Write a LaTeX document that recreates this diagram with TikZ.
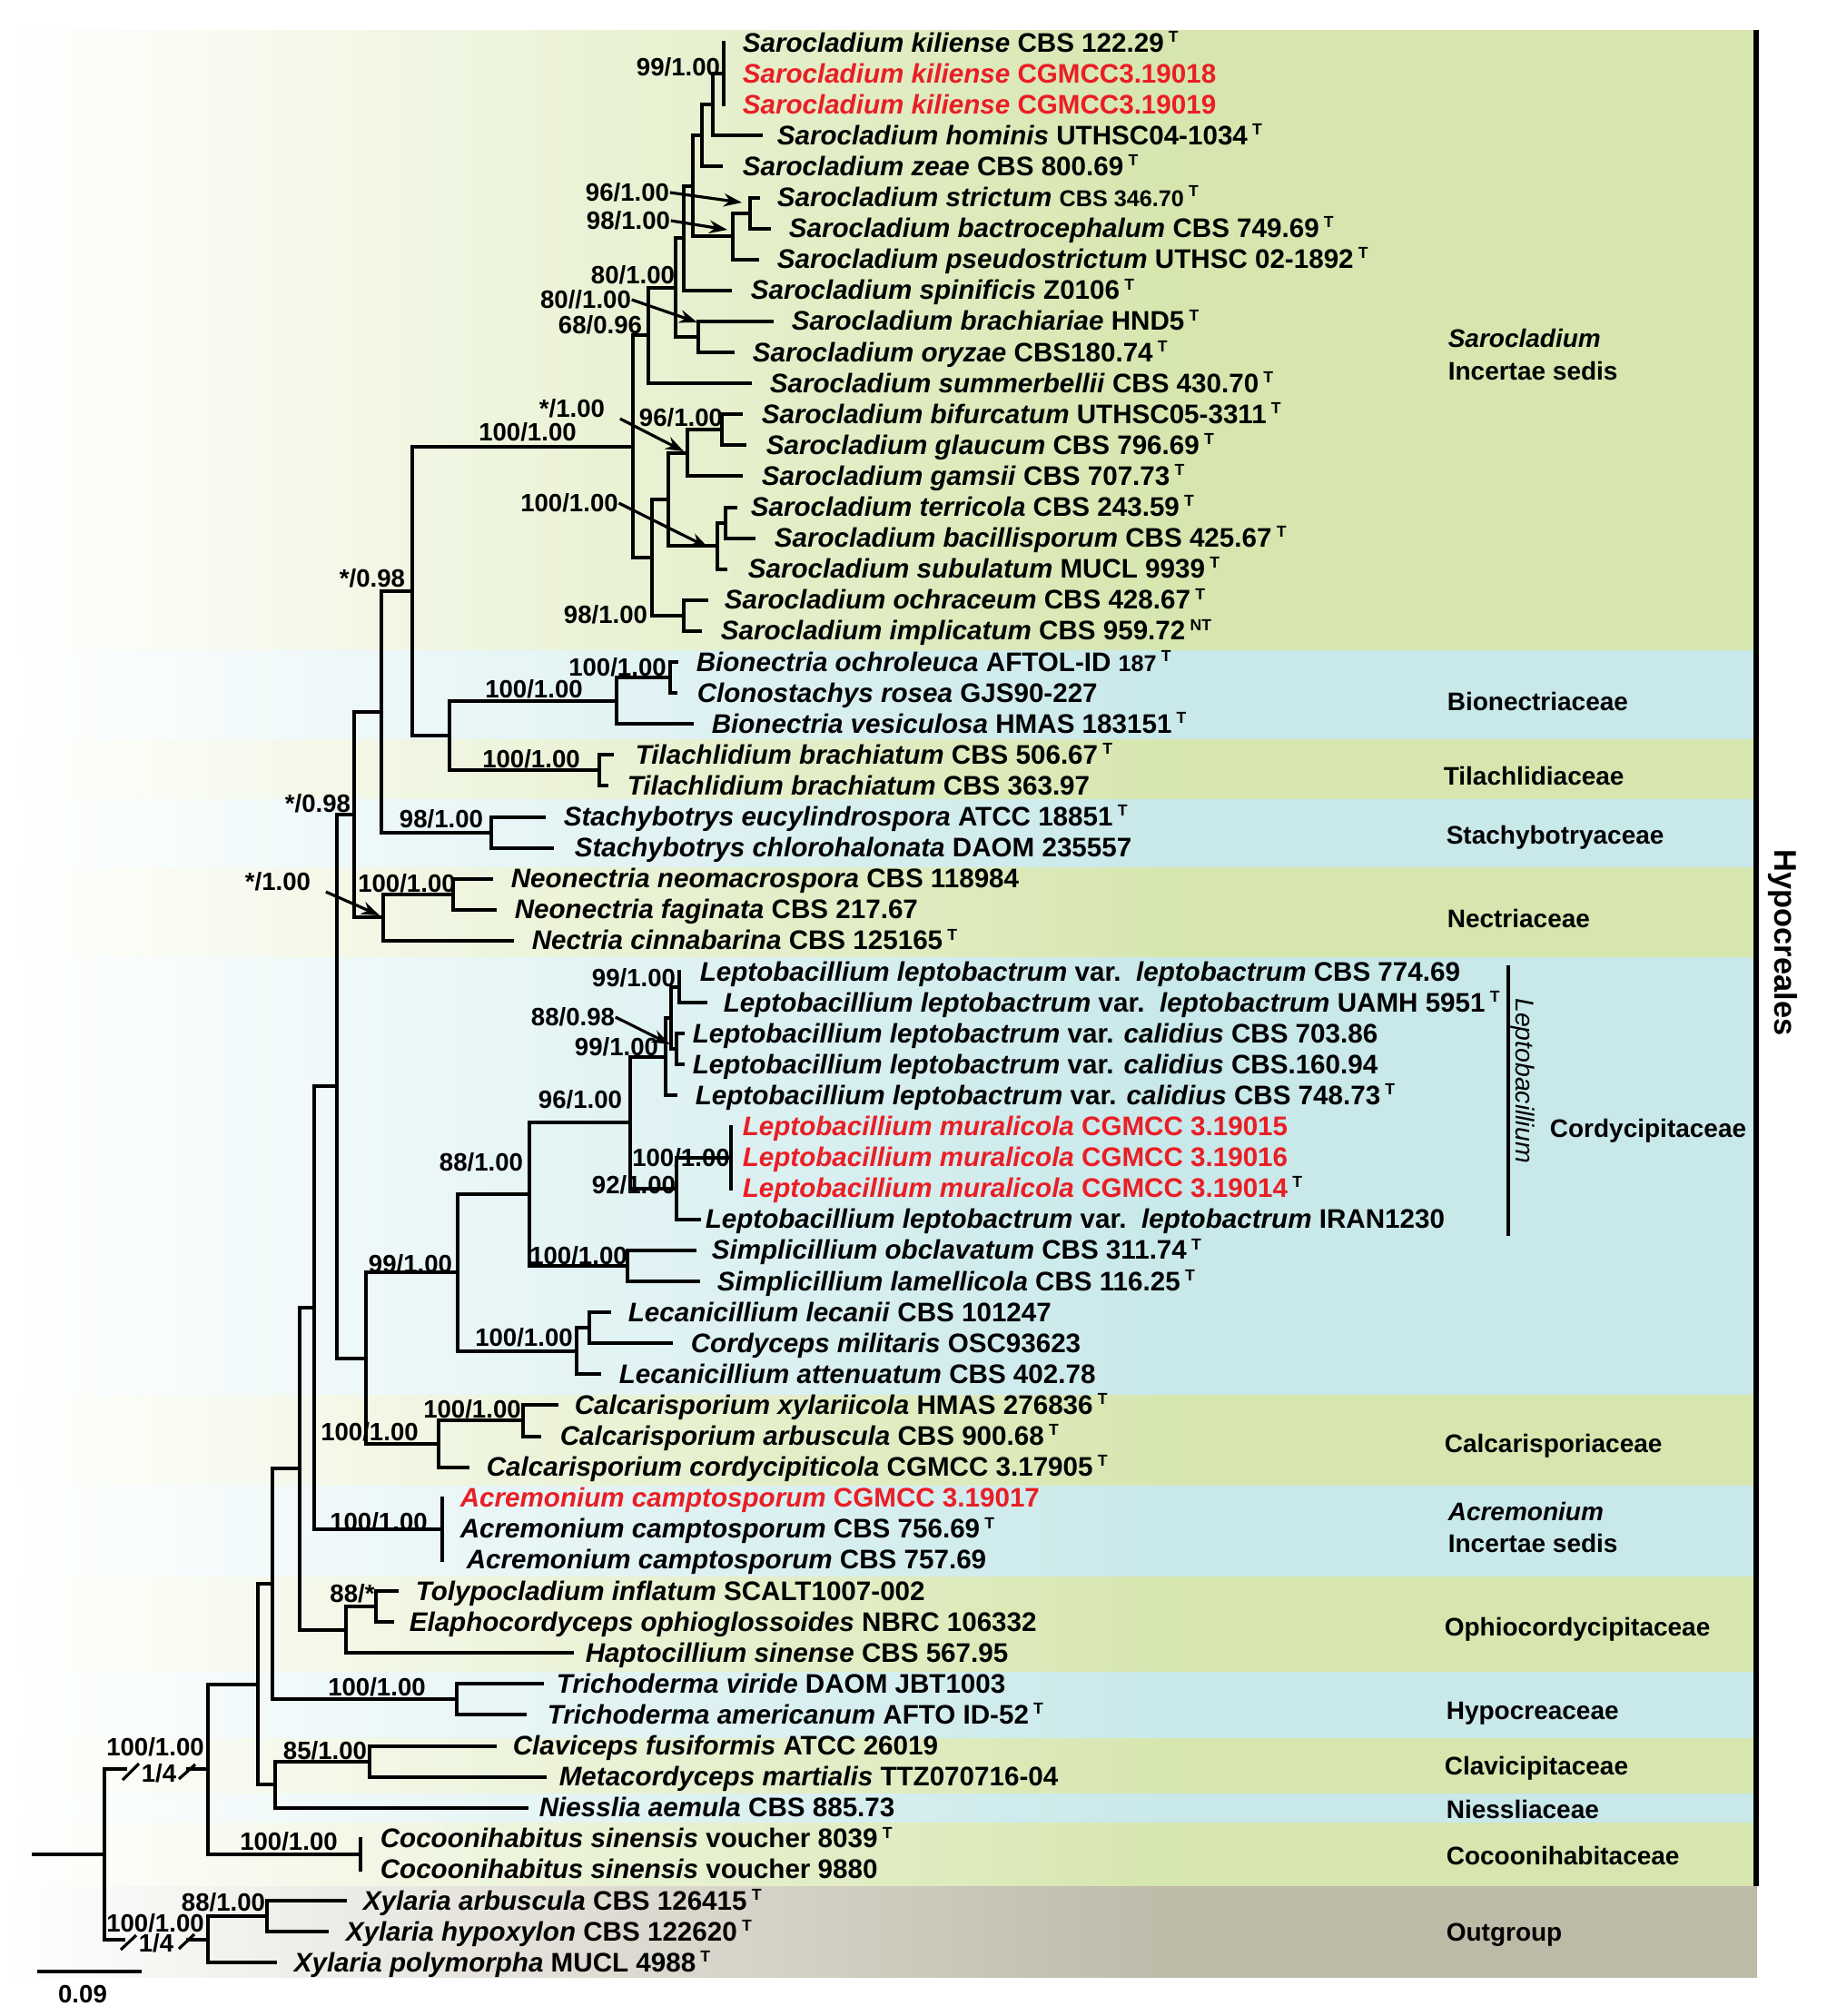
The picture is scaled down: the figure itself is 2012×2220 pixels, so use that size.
\documentclass[tikz,border=0pt]{standalone}
\usepackage{fontspec}
\setmainfont{Liberation Sans}
\usetikzlibrary{arrows.meta}
\definecolor{bgG}{RGB}{214,230,174}
\definecolor{bgB}{RGB}{200,232,234}
\definecolor{bgO}{RGB}{190,186,168}
\definecolor{redt}{RGB}{234,30,37}
\pgfdeclarehorizontalshading{shG}{100bp}{color(0bp)=(white); color(25bp)=(white); color(58.6bp)=(bgG); color(100bp)=(bgG)}
\pgfdeclarehorizontalshading{shB}{100bp}{color(0bp)=(white); color(25bp)=(white); color(58.6bp)=(bgB); color(100bp)=(bgB)}
\pgfdeclarehorizontalshading{shO}{100bp}{color(0bp)=(white); color(25bp)=(white); color(58.6bp)=(bgO); color(100bp)=(bgO)}
\newcommand{\gi}[1]{\textit{#1}}
\newcommand{\supT}{\kern1.3pt\raisebox{2.7pt}{\fontsize{4.4}{5}\selectfont T}}
\newcommand{\supNT}{\kern1.3pt\raisebox{2.7pt}{\fontsize{4.4}{5}\selectfont NT}}
\newcommand{\smf}{\fontsize{6.3}{7}\selectfont}
\newcommand{\band}[4]{\shade[shading=#3] (0,#1) rectangle (#4,#2);}
\newcommand{\edges}[3]{\draw[br] (#1) |- (#2) (#1) |- (#3);}
\begin{document}
\begin{tikzpicture}[x=0.25pt,y=-0.25pt,
 tx/.style={anchor=base west,inner sep=0pt,font=\fontsize{7.4}{8}\selectfont\bfseries},
 sup/.style={inner sep=0pt,font=\fontsize{6.9}{7}\selectfont\bfseries},
 fam/.style={anchor=base west,inner sep=0pt,font=\fontsize{7}{8}\selectfont\bfseries},
 br/.style={line width=1pt,line cap=rect},
 arr/.style={line width=0.8pt,-{Stealth[length=5pt,width=3.6pt]}}]
\useasboundingbox (0,0) rectangle (2012,2220);
% ---------- background bands
\band{33}{716}{shG}{1932}
\band{716}{814}{shB}{1932}
\band{814}{880}{shG}{1932}
\band{880}{955}{shB}{1932}
\band{955}{1054}{shG}{1932}
\band{1054}{1536}{shB}{1932}
\band{1536}{1636}{shG}{1932}
\band{1636}{1736}{shB}{1932}
\band{1736}{1841}{shG}{1932}
\band{1841}{1914}{shB}{1932}
\band{1914}{1975}{shG}{1932}
\band{1975}{2007}{shB}{1932}
\band{2007}{2077}{shG}{1932}
\band{2077}{2177}{shO}{1935}
% ---------- tips
\coordinate (t1) at (797,47);
\coordinate (t3) at (797,115.2);
\coordinate (t4) at (838,149.3);
\coordinate (t5) at (794,183.4);
\coordinate (t6) at (835,217.5);
\coordinate (t7) at (847,251.6);
\coordinate (t8) at (834,285.7);
\coordinate (t9) at (804,319.8);
\coordinate (t10) at (850,353.9);
\coordinate (t11) at (807,388.0);
\coordinate (t12) at (826,422.1);
\coordinate (t13) at (816,456.2);
\coordinate (t14) at (820,490.3);
\coordinate (t15) at (816,524.4);
\coordinate (t16) at (810,558.5);
\coordinate (t17) at (830,592.6);
\coordinate (t18) at (799,626.7);
\coordinate (t19) at (778,660.8);
\coordinate (t20) at (771,694.9);
\coordinate (t21) at (745,729.0);
\coordinate (t22) at (744,763.1);
\coordinate (t23) at (762,797.2);
\coordinate (t24) at (674,831.3);
\coordinate (t25) at (668,865.4);
\coordinate (t26) at (599,899.5);
\coordinate (t27) at (608,933.6);
\coordinate (t28) at (541,967.7);
\coordinate (t29) at (545,1001.8);
\coordinate (t30) at (564,1035.9);
\coordinate (t31) at (748,1070.0);
\coordinate (t32) at (777,1104.1);
\coordinate (t33) at (752,1138.2);
\coordinate (t34) at (752,1172.3);
\coordinate (t35) at (744,1206.4);
\coordinate (t36) at (805,1240.5);
\coordinate (t38) at (805,1308.7);
\coordinate (t39) at (770,1342.8);
\coordinate (t40) at (765,1376.9);
\coordinate (t41) at (769,1411.0);
\coordinate (t42) at (671,1445.1);
\coordinate (t43) at (739,1479.2);
\coordinate (t44) at (660,1513.3);
\coordinate (t45) at (613,1547.4);
\coordinate (t46) at (594,1581.5);
\coordinate (t47) at (515,1615.6);
\coordinate (t48) at (487,1649.7);
\coordinate (t50) at (487,1717.9);
\coordinate (t51) at (437,1752.0);
\coordinate (t52) at (432,1786.1);
\coordinate (t53) at (630,1820.2);
\coordinate (t54) at (597,1854.3);
\coordinate (t55) at (578,1888.4);
\coordinate (t56) at (545,1922.5);
\coordinate (t57) at (600,1956.6);
\coordinate (t58) at (580,1990.7);
\coordinate (t59) at (397,2024.8);
\coordinate (t60) at (397,2058.9);
\coordinate (t61) at (380,2093.0);
\coordinate (t62) at (360,2127.1);
\coordinate (t63) at (303,2161.2);
% ---------- internal nodes
\coordinate (kil) at (797,81.1);
\coordinate (hom) at (785,115.2);
\coordinate (zea) at (773,149.3);
\coordinate (str) at (826,234.55);
\coordinate (pse) at (807,260.1);
\coordinate (n763) at (763,204.7);
\coordinate (n753) at (753,262.25);
\coordinate (bra) at (769,370.95);
\coordinate (n744) at (744,316.6);
\coordinate (n714) at (714,369.35);
\coordinate (bif) at (795,473.25);
\coordinate (n757) at (757,498.8);
\coordinate (ter) at (799,575.55);
\coordinate (n790) at (790,601.1);
\coordinate (n736) at (736,549.95);
\coordinate (och) at (753,677.85);
\coordinate (n718) at (718,613.9);
\coordinate (n697) at (697,491.6);
\coordinate (bio) at (738,746.05);
\coordinate (n679) at (679,771.6);
\coordinate (til) at (660,848.35);
\coordinate (n495) at (495,810.0);
\coordinate (n454) at (454,650.8);
\coordinate (sta) at (541,916.55);
\coordinate (n420) at (420,783.7);
\coordinate (neo) at (499,984.75);
\coordinate (n422) at (422,1010.3);
\coordinate (n390) at (390,897.0);
\coordinate (nA) at (748,1087.05);
\coordinate (nB) at (745,1155.25);
\coordinate (nC) at (739,1121.15);
\coordinate (nD) at (733,1163.8);
\coordinate (mur) at (805,1274.6);
\coordinate (n745) at (745,1308.7);
\coordinate (n694) at (694,1236.25);
\coordinate (sim) at (691,1393.95);
\coordinate (n583) at (583,1315.1);
\coordinate (lec) at (649,1462.15);
\coordinate (n635) at (635,1487.7);
\coordinate (n504) at (504,1401.4);
\coordinate (caA) at (576,1564.45);
\coordinate (caB) at (483,1590.0);
\coordinate (n403) at (403,1495.7);
\coordinate (n371) at (371,1196.35);
\coordinate (acr) at (487,1683.8);
\coordinate (n346) at (346,1440.1);
\coordinate (tol) at (414,1769.05);
\coordinate (oph) at (381,1794.6);
\coordinate (n330) at (330,1617.35);
\coordinate (tri) at (503,1871.35);
\coordinate (n300) at (300,1744.35);
\coordinate (cla) at (407,1939.55);
\coordinate (n303) at (303,1965.1);
\coordinate (n284) at (284,1854.7);
\coordinate (coc) at (397,2041.85);
\coordinate (n229) at (229,1948.3);
\coordinate (xy1) at (294,2110.05);
\coordinate (xy2) at (229,2135.6);
\coordinate (root) at (115,2041.95);
\coordinate (r0) at (37,2041.95);
\coordinate (bk1) at (138,1948.3);
\coordinate (bk2) at (207,1948.3);
\coordinate (bk3) at (136,2135.6);
\coordinate (bk4) at (207,2135.6);
% ---------- branches
\draw[br] (t1) -- (t3);
\edges{hom}{kil}{t4}
\edges{zea}{hom}{t5}
\edges{str}{t6}{t7}
\edges{pse}{str}{t8}
\edges{n763}{zea}{pse}
\edges{n753}{n763}{t9}
\edges{bra}{t10}{t11}
\edges{n744}{n753}{bra}
\edges{n714}{n744}{t12}
\edges{bif}{t13}{t14}
\edges{n757}{bif}{t15}
\edges{ter}{t16}{t17}
\edges{n790}{ter}{t18}
\edges{n736}{n757}{n790}
\edges{och}{t19}{t20}
\edges{n718}{n736}{och}
\edges{n697}{n714}{n718}
\edges{bio}{t21}{t22}
\edges{n679}{bio}{t23}
\edges{til}{t24}{t25}
\edges{n495}{n679}{til}
\edges{n454}{n697}{n495}
\edges{sta}{t26}{t27}
\edges{n420}{n454}{sta}
\edges{neo}{t28}{t29}
\edges{n422}{neo}{t30}
\edges{n390}{n420}{n422}
\edges{nA}{t31}{t32}
\edges{nB}{t33}{t34}
\edges{nC}{nA}{nB}
\edges{nD}{nC}{t35}
\draw[br] (t36) -- (t38);
\edges{n745}{mur}{t39}
\edges{n694}{nD}{n745}
\edges{sim}{t40}{t41}
\edges{n583}{n694}{sim}
\edges{lec}{t42}{t43}
\edges{n635}{lec}{t44}
\edges{n504}{n583}{n635}
\edges{caA}{t45}{t46}
\edges{caB}{caA}{t47}
\edges{n403}{n504}{caB}
\edges{n371}{n390}{n403}
\draw[br] (t48) -- (t50);
\edges{n346}{n371}{acr}
\edges{tol}{t51}{t52}
\edges{oph}{tol}{t53}
\edges{n330}{n346}{oph}
\edges{tri}{t54}{t55}
\edges{n300}{n330}{tri}
\edges{cla}{t56}{t57}
\edges{n303}{cla}{t58}
\edges{n284}{n300}{n303}
\draw[br] (t59) -- (t60);
\edges{n229}{n284}{coc}
\edges{xy1}{t61}{t62}
\edges{xy2}{xy1}{t63}
\draw[br] (r0) -- (root);
\draw[br] (root) |- (bk1);
\draw[br] (bk2) -- (n229);
\draw[br] (root) |- (bk3);
\draw[br] (bk4) -- (xy2);
\draw[line width=0.8pt] (135,1960) -- (153,1942) (197,1959) -- (215,1943);
\draw[line width=0.8pt] (133,2147) -- (150,2131) (197,2146) -- (214,2130);
% ---------- scale bar
\coordinate (sb1) at (41,2171);
\coordinate (sb2) at (156,2171);
\draw[line width=1pt] (sb1) -- (sb2);
\node[sup] (sbl) at (91,2196) {0.09};
% ---------- support values
\node[sup] (s1) at (747,74) {99/1.00};
\node[sup] (s2) at (691,212) {96/1.00};
\node[sup] (s3) at (692,243) {98/1.00};
\node[sup] (s4) at (697,303) {80/1.00};
\node[sup] (s5) at (645,330) {80//1.00};
\node[sup] (s6) at (661,358) {68/0.96};
\node[sup] (s7) at (630,450) {*/1.00};
\node[sup] (s8) at (581,476) {100/1.00};
\node[sup] (s9) at (750,460) {96/1.00};
\node[sup] (s10) at (627,554) {100/1.00};
\node[sup] (s11) at (410,637) {*/0.98};
\node[sup] (s12) at (667,677) {98/1.00};
\node[sup] (s13) at (680,735) {100/1.00};
\node[sup] (s14) at (588,759) {100/1.00};
\node[sup] (s15) at (585,836) {100/1.00};
\node[sup] (s16) at (350,885) {*/0.98};
\node[sup] (s17) at (486,902) {98/1.00};
\node[sup] (s18) at (306,971) {*/1.00};
\node[sup] (s19) at (448,973) {100/1.00};
\node[sup] (s20) at (698,1077) {99/1.00};
\node[sup] (s21) at (631,1120) {88/0.98};
\node[sup] (s22) at (679,1153) {99/1.00};
\node[sup] (s23) at (639,1211) {96/1.00};
\node[sup] (s24) at (750,1275) {100/1.00};
\node[sup] (s25) at (698,1305) {92/1.00};
\node[sup] (s26) at (530,1280) {88/1.00};
\node[sup] (s27) at (637,1383) {100/1.00};
\node[sup] (s28) at (452,1392) {99/1.00};
\node[sup] (s29) at (577,1473) {100/1.00};
\node[sup] (s30) at (520,1552) {100/1.00};
\node[sup] (s31) at (407,1577) {100/1.00};
\node[sup] (s32) at (417,1676) {100/1.00};
\node[sup] (s33) at (388,1755) {88/*};
\node[sup] (s34) at (415,1858) {100/1.00};
\node[sup] (s35) at (358,1928) {85/1.00};
\node[sup] (s36) at (171,1924) {100/1.00};
\node[sup] (s36b) at (175,1953) {1/4};
\node[sup] (s37) at (171,2118) {100/1.00};
\node[sup] (s37b) at (172,2140) {1/4};
\node[sup] (s38) at (246,2095) {88/1.00};
\node[sup] (s39) at (318,2028) {100/1.00};
% ---------- arrows
\coordinate (a2) at (817,223);
\coordinate (a3) at (801,253);
\coordinate (a5) at (768,355);
\coordinate (a7) at (753,497);
\coordinate (a10) at (780,603);
\coordinate (a18) at (418,1008);
\coordinate (a21) at (738,1150);
\draw[arr] (s2.east) -- (a2);
\draw[arr] (s3.east) -- (a3);
\draw[arr] (s5.east) -- (a5);
\draw[arr] ([xshift=4pt]s7.south east) -- (a7);
\draw[arr] (s10.east) -- (a10);
\draw[arr] ([xshift=4pt]s18.south east) -- (a18);
\draw[arr] (s21.east) -- (a21);
% ---------- taxa
\node[tx] (L1) at (817,57.0) {\gi{Sarocladium kiliense} CBS 122.29\supT};
\node[tx,text=redt] (L2) at (817,91.1) {\gi{Sarocladium kiliense} CGMCC3.19018};
\node[tx,text=redt] (L3) at (817,125.2) {\gi{Sarocladium kiliense} CGMCC3.19019};
\node[tx] (L4) at (855,159.3) {\gi{Sarocladium hominis} UTHSC04-1034\supT};
\node[tx] (L5) at (817,193.4) {\gi{Sarocladium zeae} CBS 800.69\supT};
\node[tx] (L6) at (855,227.5) {\gi{Sarocladium strictum} {\smf CBS 346.70}\supT};
\node[tx] (L7) at (868,261.6) {\gi{Sarocladium bactrocephalum} CBS 749.69\supT};
\node[tx] (L8) at (855,295.7) {\gi{Sarocladium pseudostrictum} UTHSC 02-1892\supT};
\node[tx] (L9) at (826,329.8) {\gi{Sarocladium spinificis} Z0106\supT};
\node[tx] (L10) at (871,363.9) {\gi{Sarocladium brachiariae} HND5\supT};
\node[tx] (L11) at (828,398.0) {\gi{Sarocladium oryzae} CBS180.74\supT};
\node[tx] (L12) at (847,432.1) {\gi{Sarocladium summerbellii} CBS 430.70\supT};
\node[tx] (L13) at (838,466.2) {\gi{Sarocladium bifurcatum} UTHSC05-3311\supT};
\node[tx] (L14) at (843,500.3) {\gi{Sarocladium glaucum} CBS 796.69\supT};
\node[tx] (L15) at (838,534.4) {\gi{Sarocladium gamsii} CBS 707.73\supT};
\node[tx] (L16) at (826,568.5) {\gi{Sarocladium terricola} CBS 243.59\supT};
\node[tx] (L17) at (852,602.6) {\gi{Sarocladium bacillisporum} CBS 425.67\supT};
\node[tx] (L18) at (823,636.7) {\gi{Sarocladium subulatum} MUCL 9939\supT};
\node[tx] (L19) at (797,670.8) {\gi{Sarocladium ochraceum} CBS 428.67\supT};
\node[tx] (L20) at (793,704.9) {\gi{Sarocladium implicatum} CBS 959.72\supNT};
\node[tx] (L21) at (766,739.0) {\gi{Bionectria ochroleuca} AFTOL-ID {\smf 187}\supT};
\node[tx] (L22) at (767,773.1) {\gi{Clonostachys rosea} GJS90-227};
\node[tx] (L23) at (783,807.2) {\gi{Bionectria vesiculosa} HMAS 183151\supT};
\node[tx] (L24) at (699,841.3) {\gi{Tilachlidium brachiatum} CBS 506.67\supT};
\node[tx] (L25) at (690,875.4) {\gi{Tilachlidium brachiatum} CBS 363.97};
\node[tx] (L26) at (620,909.5) {\gi{Stachybotrys eucylindrospora} ATCC 18851\supT};
\node[tx] (L27) at (632,943.6) {\gi{Stachybotrys chlorohalonata} DAOM 235557};
\node[tx] (L28) at (562,977.7) {\gi{Neonectria neomacrospora} CBS 118984};
\node[tx] (L29) at (566,1011.8) {\gi{Neonectria faginata} CBS 217.67};
\node[tx] (L30) at (585,1045.9) {\gi{Nectria cinnabarina} CBS 125165\supT};
\node[tx] (L31) at (770,1080.0) {\gi{Leptobacillium leptobactrum} var.\ \ \gi{leptobactrum} CBS 774.69};
\node[tx] (L32) at (796,1114.1) {\gi{Leptobacillium leptobactrum} var.\ \ \gi{leptobactrum} UAMH 5951\supT};
\node[tx] (L33) at (762,1148.2) {\gi{Leptobacillium leptobactrum} var. \gi{calidius} CBS 703.86};
\node[tx] (L34) at (762,1182.3) {\gi{Leptobacillium leptobactrum} var. \gi{calidius} CBS.160.94};
\node[tx] (L35) at (765,1216.4) {\gi{Leptobacillium leptobactrum} var. \gi{calidius} CBS 748.73\supT};
\node[tx,text=redt] (L36) at (817,1250.5) {\gi{Leptobacillium muralicola} CGMCC 3.19015};
\node[tx,text=redt] (L37) at (817,1284.6) {\gi{Leptobacillium muralicola} CGMCC 3.19016};
\node[tx,text=redt] (L38) at (817,1318.7) {\gi{Leptobacillium muralicola} CGMCC 3.19014{\color{black}\supT}};
\node[tx] (L39) at (776,1352.8) {\gi{Leptobacillium leptobactrum} var.\ \ \gi{leptobactrum} IRAN1230};
\node[tx] (L40) at (783,1386.9) {\gi{Simplicillium obclavatum} CBS 311.74\supT};
\node[tx] (L41) at (789,1421.0) {\gi{Simplicillium lamellicola} CBS 116.25\supT};
\node[tx] (L42) at (691,1455.1) {\gi{Lecanicillium lecanii} CBS 101247};
\node[tx] (L43) at (760,1489.2) {\gi{Cordyceps militaris} OSC93623};
\node[tx] (L44) at (681,1523.3) {\gi{Lecanicillium attenuatum} CBS 402.78};
\node[tx] (L45) at (632,1557.4) {\gi{Calcarisporium xylariicola} HMAS 276836\supT};
\node[tx] (L46) at (616,1591.5) {\gi{Calcarisporium arbuscula} CBS 900.68\supT};
\node[tx] (L47) at (535,1625.6) {\gi{Calcarisporium cordycipiticola} CGMCC 3.17905\supT};
\node[tx,text=redt] (L48) at (506,1659.7) {\gi{Acremonium camptosporum} CGMCC 3.19017};
\node[tx] (L49) at (506,1693.8) {\gi{Acremonium camptosporum} CBS 756.69\supT};
\node[tx] (L50) at (513,1727.9) {\gi{Acremonium camptosporum} CBS 757.69};
\node[tx] (L51) at (457,1762.0) {\gi{Tolypocladium inflatum} SCALT1007-002};
\node[tx] (L52) at (450,1796.1) {\gi{Elaphocordyceps ophioglossoides} NBRC 106332};
\node[tx] (L53) at (644,1830.2) {\gi{Haptocillium sinense} CBS 567.95};
\node[tx] (L54) at (612,1864.3) {\gi{Trichoderma viride} DAOM JBT1003};
\node[tx] (L55) at (602,1898.4) {\gi{Trichoderma americanum} AFTO ID-52\supT};
\node[tx] (L56) at (564,1932.5) {\gi{Claviceps fusiformis} ATCC 26019};
\node[tx] (L57) at (615,1966.6) {\gi{Metacordyceps martialis} TTZ070716-04};
\node[tx] (L58) at (593,2000.7) {\gi{Niesslia aemula} CBS 885.73};
\node[tx] (L59) at (418,2034.8) {\gi{Cocoonihabitus sinensis} voucher 8039\supT};
\node[tx] (L60) at (418,2068.9) {\gi{Cocoonihabitus sinensis} voucher 9880};
\node[tx] (L61) at (399,2103.0) {\gi{Xylaria arbuscula} CBS 126415\supT};
\node[tx] (L62) at (380,2137.1) {\gi{Xylaria hypoxylon} CBS 122620\supT};
\node[tx] (L63) at (323,2171.2) {\gi{Xylaria polymorpha} MUCL 4988\supT};
% ---------- family labels
\node[fam] (f1) at (1594,382) {\gi{Sarocladium}};
\node[fam] (f1b) at (1594,418) {Incertae sedis};
\node[fam] (f2) at (1593,782) {Bionectriaceae};
\node[fam] (f3) at (1589,864) {Tilachlidiaceae};
\node[fam] (f4) at (1592,929) {Stachybotryaceae};
\node[fam] (f5) at (1593,1021) {Nectriaceae};
\node[fam,anchor=base east] (f6) at (1924,1252) {Cordycipitaceae};
\node[fam] (f7) at (1590,1599) {Calcarisporiaceae};
\node[fam] (f8) at (1594,1674) {\gi{Acremonium}};
\node[fam] (f8b) at (1594,1709) {Incertae sedis};
\node[fam] (f9) at (1590,1801) {Ophiocordycipitaceae};
\node[fam] (f10) at (1592,1893) {Hypocreaceae};
\node[fam] (f11) at (1590,1954) {Clavicipitaceae};
\node[fam] (f12) at (1592,2002) {Niessliaceae};
\node[fam] (f13) at (1592,2053) {Cocoonihabitaceae};
\node[fam] (f14) at (1592,2137) {Outgroup};
% ---------- Leptobacillium bracket and Hypocreales bar
\coordinate (lb1) at (1661,1063);
\coordinate (lb2) at (1661,1361);
\draw[line width=0.8pt] (lb1) -- (lb2);
\node[rotate=-90,inner sep=0pt,font=\fontsize{7.1}{8}\selectfont\itshape] (lep) at (1677,1190) {Leptobacillium};
\coordinate (hb1) at (1934,33);
\coordinate (hb2) at (1934,2077);
\draw[line width=1.3pt] (hb1) -- (hb2);
\node[rotate=-90,inner sep=0pt,font=\fontsize{8.6}{9}\selectfont\bfseries] (hyp) at (1963,1038) {Hypocreales};
\end{tikzpicture}
\end{document}
